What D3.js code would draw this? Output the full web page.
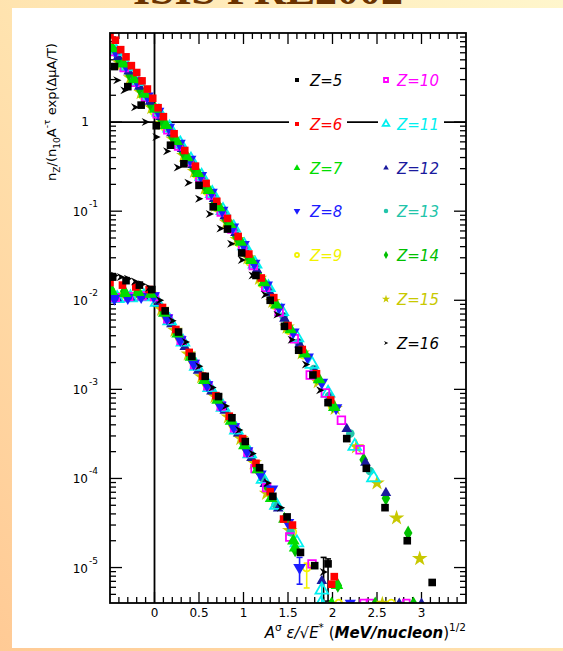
<!DOCTYPE html>
<html><head><meta charset="utf-8">
<script src="https://cdn.jsdelivr.net/npm/d3@7"></script>
<style>html,body{margin:0;padding:0;background:#fff;} svg{display:block}</style>
</head><body><svg id="c" width="563" height="651"></svg>
<script>
// ---------------- DATA ----------------
const zList   = [5, 6, 7, 8, 9, 10, 11, 12, 13, 14, 15, 16];
const zLabels = ["Z=5","Z=6","Z=7","Z=8","Z=9","Z=10","Z=11","Z=12","Z=13","Z=14","Z=15","Z=16"];

// upper band: scaled yield (x, y)
const up5  = [[-0.45,4.2],[-0.3,2.5],[-0.15,1.55],[0.02,0.91],[0.18,0.55],[0.33,0.34],[0.5,0.195],[0.66,0.112],[0.82,0.063],[0.98,0.034],[1.14,0.019],[1.3,0.010],[1.46,5.1e-3],[1.62,2.75e-3],[1.78,1.45e-3],[1.95,7.1e-4],[2.16,2.8e-4],[2.38,1.3e-4],[2.59,4.7e-5],[2.84,2.0e-5],[3.12,6.8e-6]];
const up6  = [[-0.5,9.5],[-0.44,8.3],[-0.38,6.5],[-0.32,5.4],[-0.26,4.3],[-0.2,3.6],[-0.14,2.9],[-0.08,2.35],[-0.02,1.85],[0.04,1.45],[0.1,1.15],[0.22,0.74],[0.34,0.48],[0.46,0.32],[0.58,0.205],[0.7,0.129],[0.82,0.083],[0.94,0.052],[1.06,0.033],[1.2,0.0178],[1.34,0.0107],[1.5,5.2e-3],[1.66,2.8e-3],[1.82,1.5e-3],[1.98,7.6e-4]];
const up7  = [[-0.47,6.7],[-0.35,4.5],[-0.23,3.0],[-0.11,2.06],[0.01,1.40],[0.13,0.92],[0.25,0.61],[0.37,0.40],[0.49,0.266],[0.61,0.171],[0.73,0.110],[0.85,0.071],[0.97,0.045],[1.09,0.028],[1.23,0.0158],[1.37,8.9e-3],[1.53,4.7e-3],[1.69,2.5e-3],[1.85,1.29e-3],[2.02,6.3e-4]];
const up8  = [[-0.44,6.3],[-0.32,4.3],[-0.2,2.9],[-0.08,1.95],[0.04,1.32],[0.16,0.87],[0.28,0.575],[0.4,0.38],[0.52,0.25],[0.64,0.162],[0.76,0.102],[0.88,0.066],[1.0,0.042],[1.12,0.026],[1.26,0.0148],[1.4,8.3e-3],[1.56,4.4e-3],[1.72,2.3e-3],[1.88,1.2e-3],[2.04,6.2e-4]];
const up9  = [[-0.49,6.4],[-0.37,4.3],[-0.25,2.9],[-0.13,1.98],[-0.01,1.33],[0.11,0.89],[0.23,0.59],[0.35,0.39],[0.47,0.258],[0.59,0.167],[0.71,0.108],[0.83,0.069],[0.95,0.044],[1.07,0.027],[1.21,0.0154],[1.35,8.8e-3],[1.51,4.6e-3],[1.67,2.45e-3],[1.83,1.28e-3],[2.0,6.4e-4]];
const up10 = [[-0.46,6.2],[-0.34,4.1],[-0.22,2.8],[-0.1,1.9],[0.03,1.24],[0.15,0.82],[0.27,0.54],[0.39,0.36],[0.51,0.237],[0.63,0.152],[0.75,0.098],[0.87,0.063],[0.99,0.040],[1.11,0.0246],[1.25,0.014],[1.4,7.4e-3],[1.57,3.7e-3],[1.75,1.45e-3],[1.92,9.1e-4],[2.1,4.5e-4],[2.31,2.1e-4]];
const up11 = [[-0.43,6.2],[-0.31,4.2],[-0.19,2.86],[-0.07,1.94],[0.05,1.30],[0.17,0.86],[0.29,0.57],[0.41,0.376],[0.53,0.247],[0.65,0.158],[0.77,0.102],[0.89,0.065],[1.01,0.041],[1.13,0.0255],[1.28,0.0139],[1.43,7.5e-3],[1.6,3.8e-3],[1.77,1.92e-3],[1.95,9.1e-4],[2.25,2.3e-4],[2.46,1.02e-4]];
const up12 = [[-0.41,5.4],[-0.29,3.7],[-0.17,2.5],[-0.05,1.70],[0.07,1.14],[0.19,0.75],[0.31,0.50],[0.43,0.33],[0.55,0.214],[0.67,0.137],[0.79,0.088],[0.91,0.057],[1.03,0.035],[1.15,0.0219],[1.3,0.012],[1.46,6.2e-3],[1.63,3.2e-3],[1.8,1.58e-3],[1.97,7.8e-4],[2.16,3.6e-4],[2.37,1.5e-4],[2.6,6.9e-5]];
const up13 = [[-0.42,5.75],[-0.3,3.9],[-0.18,2.64],[-0.06,1.79],[0.06,1.20],[0.18,0.79],[0.3,0.525],[0.42,0.347],[0.54,0.227],[0.66,0.146],[0.78,0.094],[0.9,0.060],[1.02,0.0377],[1.14,0.0233],[1.29,0.0128],[1.45,6.6e-3],[1.62,3.36e-3],[1.79,1.69e-3],[1.96,8.4e-4],[2.2,3.2e-4],[2.42,1.21e-4]];
const up14 = [[-0.4,5.0],[-0.28,3.4],[-0.16,2.31],[-0.04,1.57],[0.08,1.05],[0.2,0.69],[0.32,0.457],[0.44,0.30],[0.56,0.197],[0.68,0.126],[0.8,0.081],[0.92,0.052],[1.04,0.0325],[1.16,0.020],[1.32,0.0106],[1.48,5.4e-3],[1.65,2.8e-3],[1.82,1.39e-3],[2.0,6.6e-4],[2.35,1.62e-4],[2.6,6.0e-5],[2.85,2.45e-5]];
const up15 = [[-0.5,6.8],[-0.39,4.6],[-0.27,3.15],[-0.15,2.14],[-0.03,1.45],[0.09,0.97],[0.21,0.64],[0.33,0.42],[0.45,0.279],[0.57,0.181],[0.69,0.116],[0.81,0.075],[0.93,0.048],[1.05,0.030],[1.18,0.0176],[1.33,9.7e-3],[1.49,5.0e-3],[1.66,2.56e-3],[1.84,1.22e-3],[2.03,6.1e-4],[2.27,2.26e-4],[2.5,8.9e-5],[2.72,3.6e-5],[2.98,1.26e-5]];
const up16 = [[-0.42,2.95],[-0.34,2.27],[-0.22,1.47],[-0.1,1.0],[0.02,0.68],[0.14,0.47],[0.26,0.31],[0.38,0.209],[0.5,0.138],[0.62,0.093],[0.74,0.064],[0.86,0.043],[0.98,0.0284],[1.1,0.019],[1.24,0.0115],[1.38,6.9e-3],[1.54,3.6e-3],[1.7,1.9e-3],[1.86,9.8e-4]];

// lower band
const lo5  = [[-0.47,0.0182],[-0.32,0.0166],[-0.17,0.0148],[-0.03,0.0132],[0.12,7.6e-3],[0.27,4.4e-3],[0.42,2.35e-3],[0.57,1.4e-3],[0.72,8.3e-4],[0.87,4.8e-4],[1.02,2.6e-4],[1.18,1.32e-4],[1.33,6.3e-5],[1.49,3.7e-5],[1.64,1.48e-5],[1.8,1.05e-5],[1.95,1.1e-5]];
const lo6  = [[-0.5,0.0158],[-0.36,0.0148],[-0.21,0.0141],[-0.06,0.0132],[0.09,8.3e-3],[0.24,4.7e-3],[0.39,2.6e-3],[0.54,1.41e-3],[0.69,8.5e-4],[0.84,5.0e-4],[0.99,2.8e-4],[1.14,1.48e-4],[1.3,7.1e-5],[1.45,3.5e-5],[1.55,3.0e-5],[1.99,6.5e-6],[2.02,7.9e-6]];
const lo7  = [[-0.48,0.0126],[-0.33,0.012],[-0.18,0.0123],[-0.04,0.0117],[0.11,7.2e-3],[0.26,4.2e-3],[0.41,2.3e-3],[0.56,1.26e-3],[0.71,7.6e-4],[0.86,4.4e-4],[1.01,2.34e-4],[1.16,1.26e-4],[1.31,6.0e-5],[1.46,3.5e-5],[1.56,2.0e-5],[1.58,1.66e-5],[2.05,6.3e-6]];
const lo8  = [[-0.45,0.0105],[-0.3,0.0107],[-0.15,0.011],[-0.01,0.0112],[0.14,6.3e-3],[0.29,3.6e-3],[0.44,1.95e-3],[0.59,1.12e-3],[0.74,6.6e-4],[0.89,3.8e-4],[1.04,2.04e-4],[1.19,1.12e-4],[1.32,7.6e-5],[1.5,3.2e-5],[1.63,1.0e-5]];
const lo9  = [[-0.46,0.0115],[-0.31,0.0112],[-0.16,0.0115],[-0.02,0.0115],[0.13,6.6e-3],[0.28,3.8e-3],[0.43,2.1e-3],[0.58,1.17e-3],[0.73,7.1e-4],[0.88,4.0e-4],[1.03,2.2e-4],[1.17,1.23e-4],[1.28,7.1e-5],[1.55,2.5e-5],[1.71,1.0e-5]];
const lo10 = [[-0.44,0.0107],[-0.29,0.011],[-0.14,0.0112],[0.0,0.011],[0.15,6.2e-3],[0.3,3.55e-3],[0.45,1.9e-3],[0.6,1.1e-3],[0.75,6.5e-4],[0.9,3.7e-4],[1.05,1.95e-4],[1.13,1.29e-4],[1.26,7.9e-5],[1.52,2.2e-5],[1.77,1.1e-5]];
const lo11 = [[-0.42,0.0105],[-0.27,0.0107],[-0.12,0.011],[0.03,9.5e-3],[0.17,5.9e-3],[0.32,3.4e-3],[0.47,1.82e-3],[0.62,1.05e-3],[0.77,6.3e-4],[0.92,3.5e-4],[1.07,1.9e-4],[1.22,9.8e-5],[1.37,5.0e-5],[1.6,1.9e-5],[1.88,5.6e-6]];
const lo12 = [[-0.41,0.0102],[-0.26,0.0105],[-0.11,0.0107],[0.04,9.1e-3],[0.19,5.4e-3],[0.34,3.0e-3],[0.49,1.62e-3],[0.64,9.5e-4],[0.79,5.75e-4],[0.94,3.2e-4],[1.09,1.7e-4],[1.24,8.7e-5],[1.39,4.6e-5],[1.88,7.1e-6]];
const lo13 = [[-0.43,0.011],[-0.28,0.0112],[-0.13,0.0112],[0.02,0.0102],[0.16,6.0e-3],[0.31,3.5e-3],[0.46,1.86e-3],[0.61,1.07e-3],[0.76,6.5e-4],[0.91,3.6e-4],[1.06,1.95e-4],[1.21,1.02e-4],[1.36,5.1e-5],[1.53,2.5e-5]];
const lo14 = [[-0.49,0.0132],[-0.34,0.0126],[-0.19,0.0123],[-0.05,0.012],[0.1,7.6e-3],[0.25,4.3e-3],[0.4,2.35e-3],[0.55,1.32e-3],[0.7,7.8e-4],[0.85,4.6e-4],[1.0,2.45e-4],[1.15,1.32e-4],[1.27,7.9e-5],[1.58,1.58e-5],[2.06,6.3e-6]];
const lo15 = [[-0.5,0.0117],[-0.35,0.0115],[-0.2,0.0117],[-0.06,0.0117],[0.08,7.9e-3],[0.23,4.6e-3],[0.38,2.5e-3],[0.53,1.38e-3],[0.68,8.3e-4],[0.83,4.9e-4],[0.97,2.8e-4],[1.12,1.5e-4],[1.26,6.8e-5],[1.52,2.6e-5]];
const lo16 = [[-0.45,0.019],[-0.38,0.0182],[-0.3,0.0174],[-0.22,0.0162],[-0.14,0.0151],[-0.06,0.0138],[0.06,0.01],[0.2,5.9e-3],[0.35,3.4e-3],[0.5,1.82e-3],[0.65,1.05e-3],[0.8,6.5e-4],[0.95,3.5e-4],[1.1,1.9e-4],[1.27,8.9e-5],[1.42,4.7e-5],[1.9,8.9e-6]];

// points sitting on the lower axis (empty bins)
const floorX = [1.87, 1.99, 2.07, 2.2, 2.35, 2.42, 2.48, 2.56, 2.66, 2.75, 2.83, 2.91, 3.0];
const floorZ = [11, 7, 9, 8, 10, 10, 14, 15, 9, 12, 10, 14, 12];

// error bars on tail points
const errZ  = [8, 9, 5, 16, 11];
const errX  = [1.63, 1.71, 1.95, 1.9, 1.88];
const errLo = [6.5e-6, 5.9e-6, 4.2e-6, 4.0e-6, 4.0e-6];
const errHi = [1.3e-5, 1.12e-5, 1.25e-5, 1.3e-5, 7.0e-6];

// ticks
const xTickValues = [0, 0.5, 1, 1.5, 2, 2.5, 3];
const xTickLabels = ["0", "0.5", "1", "1.5", "2", "2.5", "3"];
const yTickValues = [1, 1e-1, 1e-2, 1e-3, 1e-4, 1e-5];
const yTickExp    = ["", "-1", "-2", "-3", "-4", "-5"];

// ---------------- STYLE ----------------
const zColors = ['#000000','#ff0000','#00dd00','#1c1cff','#f2f200','#ff00ff','#00f0f0','#1a1a9e','#22c4aa','#00c000','#c8c800','#000000'];
const zShapes = ['square','square','triangle','triangleDown','circleOpen','squareOpen','triangleOpen','triangleSmall','circle','diamond','star','arrow'];
const upper = [up5, up6, up7, up8, up9, up10, up11, up12, up13, up14, up15, up16];
const lower = [lo5, lo6, lo7, lo8, lo9, lo10, lo11, lo12, lo13, lo14, lo15, lo16];

const W = 563, H = 651;
const svg = d3.select('#c');
const defs = svg.append('defs');
const bg = defs.append('linearGradient').attr('id','bg').attr('x1','1').attr('y1','0').attr('x2','0').attr('y2','1');
bg.append('stop').attr('offset','0').attr('stop-color','#fff6cc');
bg.append('stop').attr('offset','0.45').attr('stop-color','#ffe6b2');
bg.append('stop').attr('offset','1').attr('stop-color','#ffca95');
svg.append('rect').attr('width',W).attr('height',H).attr('fill','url(#bg)');

// title (cut off at the top edge, as in the original slide)
svg.append('text').attr('x',268).attr('y',4).attr('text-anchor','middle')
  .attr('font-family','Liberation Serif, serif').attr('font-weight','bold').attr('font-size',44)
  .attr('fill','#6b3300').text('ISIS PRL2002');

// white panel
svg.append('rect').attr('x',12).attr('y',8).attr('width',W-12).attr('height',640).attr('fill','#ffffff');

// scales
const X0 = 110, X1 = 466, Y0 = 33, Y1 = 603;
const x = d3.scaleLinear().domain([-0.5, 3.5]).range([X0, X1]);
const y = d3.scaleLog().domain([4e-6, 10]).range([Y1, Y0]);

defs.append('clipPath').attr('id','plot').append('rect').attr('x',X0).attr('y',Y0).attr('width',X1-X0).attr('height',Y1-Y0);

const axG = svg.append('g').attr('stroke','#000').attr('stroke-width',1.3).attr('fill','none');

// x ticks (minor every 0.1, major every 0.5)
const xMinor = d3.range(-5, 35).map(i => i / 10);
xMinor.forEach(v => {
  const isMajor = Math.abs(v * 2 - Math.round(v * 2)) < 1e-6;
  const L = isMajor ? 11 : 6;
  const px = x(v);
  if (px <= X0 + 0.5 || px >= X1 - 0.5) return;
  axG.append('line').attr('x1',px).attr('x2',px).attr('y1',Y1).attr('y2',Y1-L);
  axG.append('line').attr('x1',px).attr('x2',px).attr('y1',Y0).attr('y2',Y0+L);
});
// y ticks (log)
for (let e = -6; e <= 1; e++) {
  for (let k = 1; k <= 9; k++) {
    const v = k * Math.pow(10, e);
    if (v < 4e-6 || v > 10) continue;
    const py = y(v);
    if (py <= Y0 + 0.5 || py >= Y1 - 0.5) continue;
    const L = k === 1 ? 12 : 6;
    axG.append('line').attr('x1',X0).attr('x2',X0+L).attr('y1',py).attr('y2',py);
    axG.append('line').attr('x1',X1).attr('x2',X1-L).attr('y1',py).attr('y2',py);
  }
}
// reference lines
svg.append('line').attr('x1',X0).attr('x2',X1).attr('y1',y(1)).attr('y2',y(1)).attr('stroke','#000').attr('stroke-width',1.8);
svg.append('line').attr('x1',x(0)).attr('x2',x(0)).attr('y1',Y0).attr('y2',Y1).attr('stroke','#000').attr('stroke-width',1.8);

// marker drawing
const arrowSym = { draw(ctx, size) { const r = Math.sqrt(size) / 2; ctx.moveTo(-r, -r); ctx.lineTo(r * 1.1, 0); ctx.lineTo(-r, r); ctx.lineTo(-r * 0.3, 0); ctx.closePath(); } };
function marker(g, shape, color, px, py, s) {
  let type = d3.symbolSquare, fill = color, stroke = 'none', rot = 0, size = s;
  switch (shape) {
    case 'square': type = d3.symbolSquare; break;
    case 'triangle': type = d3.symbolTriangle; size = s * 1.2; break;
    case 'triangleDown': type = d3.symbolTriangle; size = s * 1.2; rot = 180; break;
    case 'circleOpen': type = d3.symbolCircle; fill = 'none'; stroke = color; size = s * 0.8; break;
    case 'squareOpen': type = d3.symbolSquare; fill = 'none'; stroke = color; break;
    case 'triangleOpen': type = d3.symbolTriangle; fill = 'none'; stroke = color; size = s * 1.2; break;
    case 'triangleSmall': type = d3.symbolTriangle; size = s * 0.85; break;
    case 'circle': type = d3.symbolCircle; break;
    case 'diamond': type = d3.symbolDiamond; size = s * 1.1; break;
    case 'star': type = d3.symbolStar; size = s * 1.3; break;
    case 'arrow': type = arrowSym; size = s * 1.1; break;
  }
  g.append('path').attr('d', d3.symbol().type(type).size(size)())
    .attr('transform', `translate(${px},${py}) rotate(${rot})`)
    .attr('fill', fill).attr('stroke', stroke).attr('stroke-width', stroke === 'none' ? 0 : 1.8);
}

const dataG = svg.append('g').attr('clip-path','url(#plot)');
// error bars
errZ.forEach((z, i) => {
  const idx = zList.indexOf(z), c = zColors[idx], px = x(errX[i]);
  const eg = dataG.append('g').attr('stroke', c).attr('stroke-width', 1.6);
  eg.append('line').attr('x1',px).attr('x2',px).attr('y1',y(errLo[i])).attr('y2',y(errHi[i]));
  eg.append('line').attr('x1',px-3).attr('x2',px+3).attr('y1',y(errLo[i])).attr('y2',y(errLo[i]));
  eg.append('line').attr('x1',px-3).attr('x2',px+3).attr('y1',y(errHi[i])).attr('y2',y(errHi[i]));
});
// series
const MS = 58;
const order = [4, 10, 9, 8, 7, 6, 5, 3, 2, 1, 0, 11];
order.forEach(i => {
  const g = dataG.append('g');
  lower[i].forEach(d => marker(g, zShapes[i], zColors[i], x(d[0]), y(d[1]), MS));
  upper[i].forEach(d => marker(g, zShapes[i], zColors[i], x(d[0]), y(d[1]), MS));
});
// floor points
floorX.forEach((v, i) => {
  const idx = zList.indexOf(floorZ[i]);
  marker(dataG, zShapes[idx], zColors[idx], x(v), y(4e-6), 45);
});

// frame
svg.append('rect').attr('x',X0).attr('y',Y0).attr('width',X1-X0).attr('height',Y1-Y0)
  .attr('fill','none').attr('stroke','#000').attr('stroke-width',1.8);

// tick labels
const font = 'DejaVu Sans, Liberation Sans, sans-serif';
xTickValues.forEach((v, i) => {
  svg.append('text').attr('x', x(v)).attr('y', 617).attr('text-anchor','middle')
    .attr('font-family', font).attr('font-size', 12).attr('fill','#000').text(xTickLabels[i]);
});
yTickValues.forEach((v, i) => {
  const py = y(v);
  if (yTickExp[i] === '') {
    svg.append('text').attr('x', 89).attr('y', py + 4).attr('text-anchor','end')
      .attr('font-family', font).attr('font-size', 12).text('1');
  } else {
    svg.append('text').attr('x', 88).attr('y', py + 5).attr('text-anchor','end')
      .attr('font-family', font).attr('font-size', 12).text('10');
    svg.append('text').attr('x', 89).attr('y', py - 4).attr('text-anchor','start')
      .attr('font-family', font).attr('font-size', 9).text(yTickExp[i]);
  }
});

// rich text helper
function rich(t, parts, base) {
  let shift = 0;
  parts.forEach(p => {
    const [txt, mode, st] = p;
    const target = mode === 'sup' ? -0.45 * base : mode === 'sub' ? 0.3 * base : 0;
    const ts = t.append('tspan').text(txt).attr('dy', target - shift);
    shift = target;
    if (mode) ts.attr('font-size', base * 0.7);
    if (st === 'i') ts.attr('font-style', 'italic');
    if (st === 'bi') ts.attr('font-style', 'italic').attr('font-weight', 'bold');
  });
}
// x title
const xt = svg.append('text').attr('x', 466).attr('y', 638).attr('text-anchor','end')
  .attr('font-family', font).attr('font-size', 15).attr('fill','#000');
rich(xt, [['A','', 'i'],['σ','sup'],[' ε/√E','', 'i'],['*','sup'],[' (',''],['MeV/nucleon','', 'bi'],[')',''],['1/2','sup']], 15);
// y title
const yt = svg.append('text').attr('transform','translate(56,112) rotate(-90)').attr('text-anchor','middle')
  .attr('font-family', font).attr('font-size', 13).attr('fill','#000');
rich(yt, [['n',''],['Z','sub'],['/(n',''],['10','sub'],['A',''],['-τ','sup'],[' exp(ΔμA/T)','']], 13);

// legend
const rowY = [80, 124, 168, 211, 255, 299, 343];
zList.forEach((z, i) => {
  const col = i < 5 ? 0 : 1;
  const row = col === 0 ? i : i - 5;
  const mx = col === 0 ? 297 : 386;
  const tx = col === 0 ? 310 : 397;
  const ry = rowY[row];
  const lg = svg.append('g');
  lg.append('rect').attr('x', mx - 8).attr('y', ry - 9).attr('width', (col === 0 ? 58 : 66)).attr('height', 18).attr('fill', '#fff');
  marker(lg, zShapes[i], zColors[i], mx, ry, 16);
  lg.append('text').attr('x', tx).attr('y', ry + 5.5).attr('font-family', font).attr('font-style','italic')
    .attr('font-size', 15).attr('fill', zColors[i]).text(zLabels[i]);
});
</script>
</body></html>
